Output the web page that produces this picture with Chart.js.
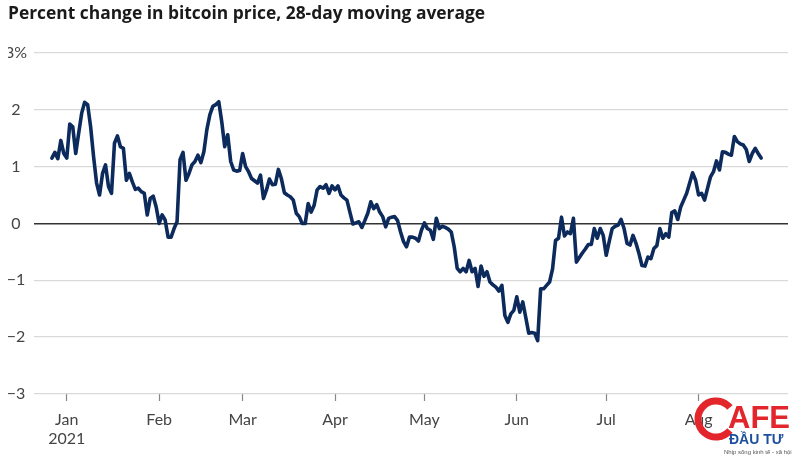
<!DOCTYPE html>
<html>
<head>
<meta charset="utf-8">
<script src="https://cdn.jsdelivr.net/npm/chart.js@4/dist/chart.umd.min.js"></script>
<style>
  html, body { margin: 0; padding: 0; background: #ffffff; }
  #wrap { width: 800px; height: 458px; }
</style>
</head>
<body>
<div id="wrap"><canvas id="c" width="800" height="458"></canvas></div>
<script>
// ---- data ----
const titleText = 'Percent change in bitcoin price, 28-day moving average';
// first data point is 2020-12-27, one value per day after that
const startDate = '2020-12-27';
const values = [
  1.15, 1.25, 1.14, 1.46, 1.23, 1.15, 1.75, 1.70, 1.23, 1.59,
  1.94, 2.13, 2.09, 1.70, 1.17, 0.71, 0.50, 0.88, 1.03, 0.65,
  0.53, 1.41, 1.54, 1.35, 1.32, 0.76, 0.88, 0.73, 0.60, 0.62,
  0.56, 0.53, 0.15, 0.44, 0.48, 0.29, 0.00, 0.15, 0.06, -0.24,
  -0.24, -0.09, 0.03, 1.12, 1.25, 0.76,
  0.88, 1.03, 1.09, 1.20, 1.07, 1.26, 1.65, 1.91, 2.06, 2.09,
  2.14, 1.79, 1.35, 1.56, 1.09, 0.94, 0.92, 0.93, 1.23, 1.00,
  0.91, 0.79, 0.75, 0.71, 0.85, 0.44, 0.59, 0.78, 0.68, 0.69,
  0.95, 0.79, 0.54, 0.50, 0.47, 0.41, 0.18, 0.12, 0.00, 0.00,
  0.35, 0.20, 0.32, 0.59, 0.65, 0.62, 0.68, 0.53, 0.66, 0.59,
  0.66, 0.50, 0.45, 0.41, 0.20, -0.01, 0.01, 0.03, -0.07, 0.05,
  0.18, 0.38, 0.26, 0.33, 0.20, 0.12, -0.06, 0.09, 0.11, 0.12,
  0.05, -0.15, -0.32, -0.41, -0.24, -0.24, -0.26, -0.31, -0.12, 0.01,
  -0.09, -0.12, -0.28, 0.09, -0.09, -0.05, -0.07, -0.10, -0.15, -0.41,
  -0.79, -0.85, -0.79, -0.85, -0.65, -0.85, -0.79, -1.11, -0.75, -0.93,
  -0.85, -1.03, -1.08, -1.12, -1.19, -1.09, -1.62, -1.74, -1.59, -1.53,
  -1.29, -1.56, -1.38, -1.65, -1.93, -1.92, -1.93, -2.06, -1.15, -1.15,
  -1.09, -1.03, -0.80, -0.30, -0.26, 0.11, -0.22, -0.15, -0.18, 0.09,
  -0.68, -0.60, -0.52, -0.45, -0.37, -0.37, -0.09, -0.26, -0.09, -0.21,
  -0.56, -0.32, -0.09, -0.05, -0.03, 0.07, -0.09, -0.35, -0.38, -0.21,
  -0.35, -0.53, -0.74, -0.75, -0.59, -0.62, -0.44, -0.39, -0.09, -0.26,
  -0.18, -0.24, 0.19, 0.22, 0.07, 0.29, 0.41, 0.53, 0.71, 0.89,
  0.76, 0.50, 0.53, 0.41, 0.62, 0.82, 0.91, 1.10, 0.94, 1.26,
  1.25, 1.22, 1.20, 1.53, 1.44, 1.40, 1.38, 1.30, 1.09, 1.23,
  1.32, 1.23, 1.15
];
const monthStarts = ['2021-01-01','2021-02-01','2021-03-01','2021-04-01','2021-05-01','2021-06-01','2021-07-01','2021-08-01'];
const monthLabels = [['Jan','2021'],'Feb','Mar','Apr','May','Jun','Jul','Aug'];
const yTicks = [-3, -2, -1, 0, 1, 2, 3];
const xRange = ['2020-12-21', '2021-08-31'];

// ---- helpers ----
const DAY = 86400000;
const base = Date.UTC(2021, 0, 1);
const dayOf = s => { const [y, m, d] = s.split('-').map(Number); return Math.round((Date.UTC(y, m - 1, d) - base) / DAY); };
const startDay = dayOf(startDate);
const points = values.map((v, i) => ({ x: startDay + i, y: v }));
const monthDays = monthStarts.map(dayOf);

const watermark = {
  id: 'watermark',
  afterDraw(chart) {
    const ctx = chart.ctx;
    ctx.save();
    ctx.strokeStyle = '#e3262b';
    ctx.lineWidth = 7;
    ctx.beginPath();
    ctx.arc(716, 419, 18, 0.22 * Math.PI, 1.78 * Math.PI, false);
    ctx.stroke();
    ctx.fillStyle = '#e3262b';
    ctx.font = 'bold 31px "Liberation Sans", Arial, sans-serif';
    ctx.textBaseline = 'alphabetic';
    ctx.textAlign = 'left';
    ctx.fillText('AFE', 728, 428);
    ctx.fillStyle = '#1d4f9f';
    ctx.font = 'bold 14px "Liberation Sans", Arial, sans-serif';
    ctx.fillText('ĐẦU TƯ', 729, 444);
    ctx.fillStyle = '#555';
    ctx.font = '6px "Liberation Sans", Arial, sans-serif';
    ctx.fillText('Nhịp sống kinh tế - xã hội', 724, 454);
    ctx.restore();
  }
};

new Chart(document.getElementById('c'), {
  type: 'line',
  data: {
    datasets: [{
      data: points,
      borderColor: '#0c2a5b',
      borderWidth: 3.6,
      pointRadius: 0,
      tension: 0,
      borderJoinStyle: 'round',
      borderCapStyle: 'round',
      fill: false
    }]
  },
  options: {
    responsive: false,
    animation: false,
    layout: { padding: { left: 8, right: 12, top: 0, bottom: 0 } },
    plugins: {
      legend: { display: false },
      tooltip: { enabled: false },
      title: {
        display: true,
        text: titleText,
        align: 'start',
        color: '#1a1a1a',
        font: { family: '"Open Sans"', size: 17.4, weight: 'bold' },
        padding: { top: 4, bottom: 28 }
      }
    },
    scales: {
      x: {
        type: 'linear',
        min: dayOf(xRange[0]),
        max: dayOf(xRange[1]),
        afterBuildTicks: s => { s.ticks = monthDays.map(v => ({ value: v })); },
        afterFit: s => { s.height = 64; },
        grid: { drawOnChartArea: false, drawTicks: true, tickLength: 7, tickColor: '#888', tickWidth: 1.2 },
        border: { display: false },
        ticks: {
          autoSkip: false,
          maxRotation: 0,
          padding: 9,
          color: '#444',
          font: { family: 'Lato', size: 16 },
          callback: v => { const i = monthDays.indexOf(v); return i >= 0 ? monthLabels[i] : ''; }
        }
      },
      y: {
        min: yTicks[0],
        max: yTicks[yTicks.length - 1],
        afterBuildTicks: s => { s.ticks = yTicks.map(v => ({ value: v })); },
        afterFit: s => { s.width = 26; },
        grid: {
          drawTicks: false,
          color: c => c.tick && c.tick.value === 0 ? '#333333' : '#d9d9d9',
          lineWidth: c => c.tick && c.tick.value === 0 ? 1.5 : 1.3
        },
        border: { display: false },
        ticks: {
          padding: 7,
          crossAlign: 'center',
          color: '#444',
          font: { family: 'Lato', size: 16 },
          callback: v => v === 3 ? '3%' : (v < 0 ? '\u2212' + Math.abs(v) : String(v))
        }
      }
    }
  },
  plugins: [watermark]
});
</script>
</body>
</html>
